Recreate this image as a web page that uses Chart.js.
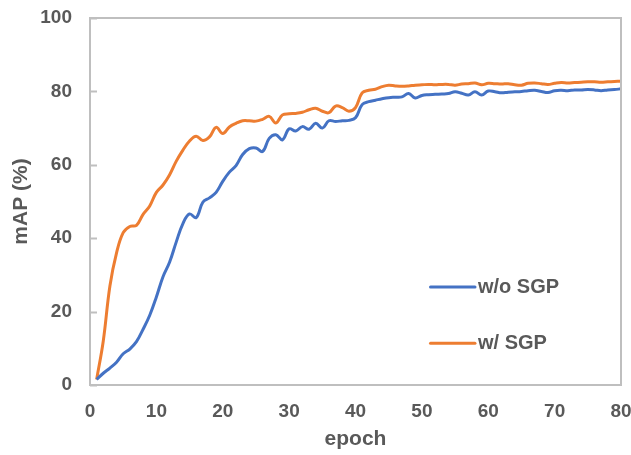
<!DOCTYPE html>
<html>
<head>
<meta charset="utf-8">
<script src="https://cdn.jsdelivr.net/npm/chart.js@4.4.1/dist/chart.umd.min.js"></script>
<style>
  html, body { margin: 0; padding: 0; background: #ffffff; }
  #wrap { width: 631px; height: 455px; position: relative; }
  #chart { display: block; }
</style>
</head>
<body>
<div id="wrap"><canvas id="chart" width="631" height="455"></canvas></div>
<script>
// Training epochs
const epochs = [
  1, 2, 3, 4, 5, 6, 7, 8, 9, 10,
  11, 12, 13, 14, 15, 16, 17, 18, 19, 20,
  21, 22, 23, 24, 25, 26, 27, 28, 29, 30,
  31, 32, 33, 34, 35, 36, 37, 38, 39, 40,
  41, 42, 43, 44, 45, 46, 47, 48, 49, 50,
  51, 52, 53, 54, 55, 56, 57, 58, 59, 60,
  61, 62, 63, 64, 65, 66, 67, 68, 69, 70,
  71, 72, 73, 74, 75, 76, 77, 78, 79, 80
];

// mAP (%) without SGP
const mapWithoutSGP = [
  1.5, 3.2, 4.6, 6.2, 8.5, 9.8, 11.8, 15.2, 19.0, 24.0,
  29.5, 33.5, 39.0, 44.0, 46.6, 45.6, 49.8, 51.0, 52.5, 55.5,
  58.0, 59.8, 62.8, 64.4, 64.6, 63.6, 67.2, 68.2, 66.8, 69.8,
  69.2, 70.4, 69.7, 71.3, 70.0, 72.0, 71.8, 72.0, 72.1, 72.8,
  76.4, 77.2, 77.6, 78.0, 78.3, 78.4, 78.5, 79.4, 78.2, 78.9,
  79.1, 79.2, 79.3, 79.4, 79.9, 79.5, 79.0, 79.9, 79.0, 80.1,
  79.9, 79.6, 79.8, 79.9, 80.0, 80.2, 80.3, 80.0, 79.7, 80.2,
  80.3, 80.2, 80.4, 80.4, 80.5, 80.4, 80.2, 80.4, 80.5, 80.7
];

// mAP (%) with SGP
const mapWithSGP = [
  1.5, 12.0, 27.0, 36.0, 41.5, 43.2, 43.5, 46.5, 48.8, 52.5,
  54.5, 57.3, 61.0, 64.0, 66.5, 67.8, 66.6, 67.6, 70.2, 68.5,
  70.3, 71.3, 72.0, 72.0, 71.9, 72.4, 73.2, 71.4, 73.6, 73.9,
  74.0, 74.3, 75.0, 75.4, 74.6, 74.2, 76.0, 75.6, 74.6, 75.6,
  79.6, 80.3, 80.6, 81.3, 81.7, 81.5, 81.4, 81.5, 81.7, 81.8,
  81.9, 81.8, 81.9, 81.9, 81.7, 82.0, 82.1, 82.3, 81.8, 82.2,
  82.1, 82.0, 82.1, 81.8, 81.7, 82.2, 82.3, 82.1, 81.9, 82.2,
  82.4, 82.3, 82.4, 82.5, 82.6, 82.6, 82.5, 82.6, 82.7, 82.8
];

const seriesNames = ['w/o SGP', 'w/ SGP'];
const seriesColors = ['#4472C4', '#ED7D31'];

const xTicks = [0, 10, 20, 30, 40, 50, 60, 70, 80];
const yTicks = [0, 20, 40, 60, 80, 100];

const textColor = '#595959';
const frameColor = '#BFBFBF';
const fontFamily = '"Liberation Sans", Arial, sans-serif';

const toPoints = (values) => epochs.map((e, i) => ({ x: e, y: values[i] }));

// Plot frame with inward value-axis tick marks
const framePlugin = {
  id: 'frame',
  afterDatasetsDraw(chart) {
    const { ctx, chartArea: a, scales } = chart;
    ctx.save();
    ctx.strokeStyle = frameColor;
    ctx.lineWidth = 2;
    ctx.strokeRect(a.left, a.top, a.right - a.left, a.bottom - a.top);
    ctx.beginPath();
    yTicks.forEach(v => {
      const y = Math.round(scales.y.getPixelForValue(v)) + 0.5;
      ctx.moveTo(a.left, y);
      ctx.lineTo(a.left + 7, y);
    });
    ctx.stroke();
    ctx.restore();
  }
};

// Legend drawn inside the plot, lower right
const insideLegend = {
  id: 'insideLegend',
  afterDraw(chart) {
    const { ctx, scales } = chart;
    ctx.save();
    ctx.font = 'bold 20px ' + fontFamily;
    ctx.textBaseline = 'middle';
    ctx.textAlign = 'left';
    const rows = [26.7, 11.4]; // data-space heights of the legend rows
    chart.data.datasets.forEach((ds, i) => {
      const y = scales.y.getPixelForValue(rows[i]);
      const x0 = scales.x.getPixelForValue(51.3);
      const x1 = scales.x.getPixelForValue(58.0);
      ctx.strokeStyle = ds.borderColor;
      ctx.lineWidth = 3;
      ctx.lineCap = 'round';
      ctx.beginPath();
      ctx.moveTo(x0, y);
      ctx.lineTo(x1, y);
      ctx.stroke();
      ctx.fillStyle = textColor;
      ctx.fillText(ds.label, x1 + 3, y);
    });
    ctx.restore();
  }
};

new Chart(document.getElementById('chart'), {
  type: 'line',
  data: {
    datasets: [
      {
        label: seriesNames[0],
        data: toPoints(mapWithoutSGP),
        borderColor: seriesColors[0],
        backgroundColor: seriesColors[0],
        borderWidth: 3,
        pointRadius: 0,
        tension: 0.4,
        fill: false
      },
      {
        label: seriesNames[1],
        data: toPoints(mapWithSGP),
        borderColor: seriesColors[1],
        backgroundColor: seriesColors[1],
        borderWidth: 3,
        pointRadius: 0,
        tension: 0.4,
        fill: false
      }
    ]
  },
  options: {
    responsive: false,
    animation: false,
    devicePixelRatio: 1,
    layout: { padding: { left: 0, right: 10, top: 18, bottom: 1 } },
    plugins: {
      legend: { display: false },
      tooltip: { enabled: false }
    },
    scales: {
      x: {
        type: 'linear',
        min: 0,
        max: 80,
        afterBuildTicks(scale) { scale.ticks = xTicks.map(v => ({ value: v })); },
        afterFit(scale) {
          scale.height = 69;
          scale.paddingLeft = 0;
          scale.paddingRight = 0;
        },
        grid: { display: false, drawTicks: false },
        border: { display: false },
        ticks: {
          padding: 15,
          color: textColor,
          font: { family: fontFamily, size: 19, weight: 'bold' }
        },
        title: {
          display: true,
          text: 'epoch',
          color: textColor,
          padding: { top: 0, bottom: 2 },
          font: { family: fontFamily, size: 21, weight: 'bold' }
        }
      },
      y: {
        min: 0,
        max: 100,
        afterBuildTicks(scale) { scale.ticks = yTicks.map(v => ({ value: v })); },
        afterFit(scale) {
          scale.width = 90;
          scale.paddingTop = 0;
          scale.paddingBottom = 0;
        },
        grid: { display: false, drawTicks: false },
        border: { display: false },
        ticks: {
          padding: 18,
          color: textColor,
          font: { family: fontFamily, size: 19, weight: 'bold' }
        },
        title: {
          display: true,
          text: 'mAP (%)',
          color: textColor,
          padding: { top: 9, bottom: 0 },
          font: { family: fontFamily, size: 21, weight: 'bold' }
        }
      }
    }
  },
  plugins: [framePlugin, insideLegend]
});
</script>
</body>
</html>
